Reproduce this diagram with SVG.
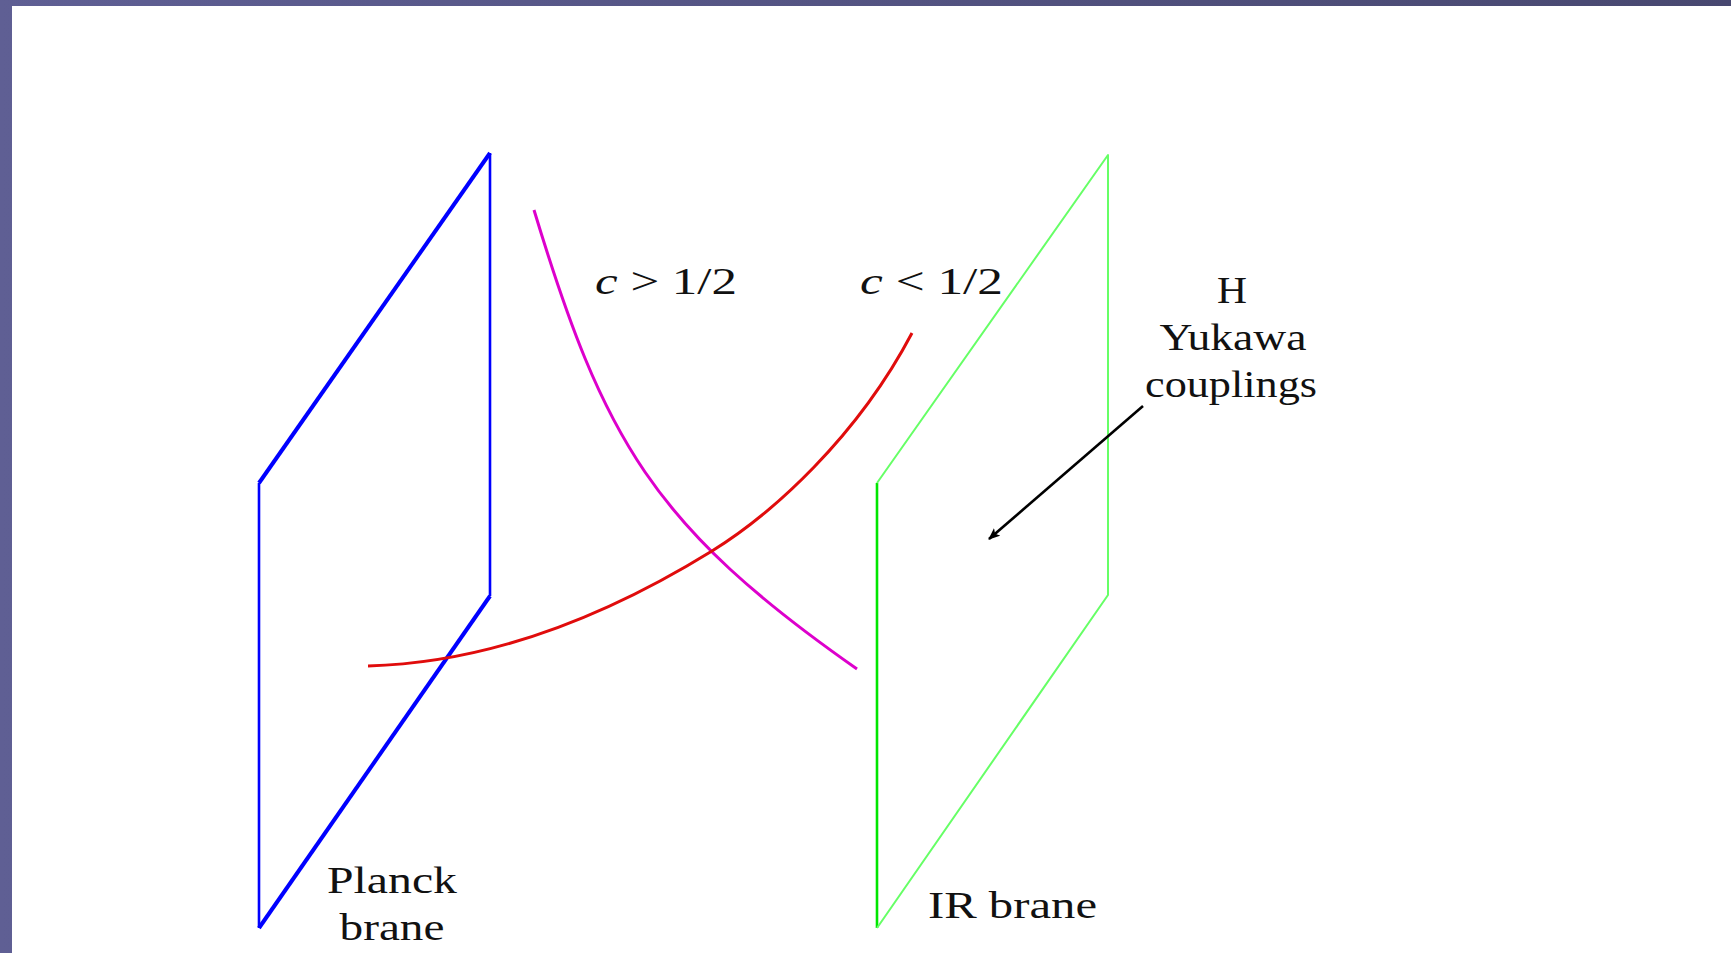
<svg xmlns="http://www.w3.org/2000/svg" width="1731" height="953" viewBox="0 0 1731 953">
<defs>
<linearGradient id="bg" x1="0" y1="0" x2="1" y2="0">
<stop offset="0" stop-color="#5f5f94"/>
<stop offset="1" stop-color="#484870"/>
</linearGradient>
<marker id="ah" markerWidth="12" markerHeight="10" refX="11" refY="5" orient="auto" markerUnits="userSpaceOnUse">
<path d="M0,0 L12,5 L0,10 L3,5 Z" fill="#000"/>
</marker>
<style>
.lbl{font-family:"Liberation Serif","Times New Roman",serif;font-size:37px;fill:#111}
.c{fill:none;stroke-linejoin:round;stroke-linecap:butt}
</style>
</defs>
<rect x="0" y="0" width="1731" height="953" fill="url(#bg)"/>
<rect x="12" y="6" width="1719" height="947" fill="#ffffff"/>

<g id="planck-brane">
<path class="c" d="M259,928 L259,483" stroke="#0000ff" stroke-width="2.6"/>
<path class="c" d="M490,153 L490,596" stroke="#0000ff" stroke-width="2.6"/>
<path class="c" d="M259,483 L490,153" stroke="#0000ff" stroke-width="4"/>
<path class="c" d="M259,928 L490,596" stroke="#0000ff" stroke-width="4"/>
<text class="lbl" x="392" y="893" text-anchor="middle" textLength="130" lengthAdjust="spacingAndGlyphs">Planck</text>
<text class="lbl" x="392" y="940" text-anchor="middle" textLength="105" lengthAdjust="spacingAndGlyphs">brane</text>
</g>

<g id="ir-brane">
<path class="c" d="M877,928 L877,483" stroke="#00e600" stroke-width="2.6"/>
<path class="c" d="M877,483 L1108,155 L1108,595 L877,928" stroke="#66ff66" stroke-width="2"/>
<text class="lbl" x="928" y="918" textLength="169" lengthAdjust="spacingAndGlyphs">IR brane</text>
</g>

<g id="magenta-curve">
<path class="c" stroke="#dd00cc" stroke-width="3" d="M534,210 C603.6,439.7 652.7,526 857,669"/>
<text class="lbl" x="595" y="294" textLength="142" lengthAdjust="spacingAndGlyphs"><tspan font-style="italic">c</tspan> &gt; 1/2</text>
</g>

<g id="red-curve">
<path class="c" stroke="#e00c0c" stroke-width="3" d="M368,666 C483,663 597,622 712,551 C772,513.8 857,437.5 912,333"/>
<text class="lbl" x="860" y="294" textLength="143" lengthAdjust="spacingAndGlyphs"><tspan font-style="italic">c</tspan> &lt; 1/2</text>
</g>

<g id="yukawa-label">
<text class="lbl" x="1232" y="303" text-anchor="middle" textLength="30" lengthAdjust="spacingAndGlyphs">H</text>
<text class="lbl" x="1233" y="350" text-anchor="middle" textLength="147" lengthAdjust="spacingAndGlyphs">Yukawa</text>
<text class="lbl" x="1231" y="397" text-anchor="middle" textLength="172" lengthAdjust="spacingAndGlyphs">couplings</text>
</g>

<g id="connectors">
<path d="M1143,406 L989,539" stroke="#000" stroke-width="2.6" fill="none" marker-end="url(#ah)"/>
</g>
</svg>
